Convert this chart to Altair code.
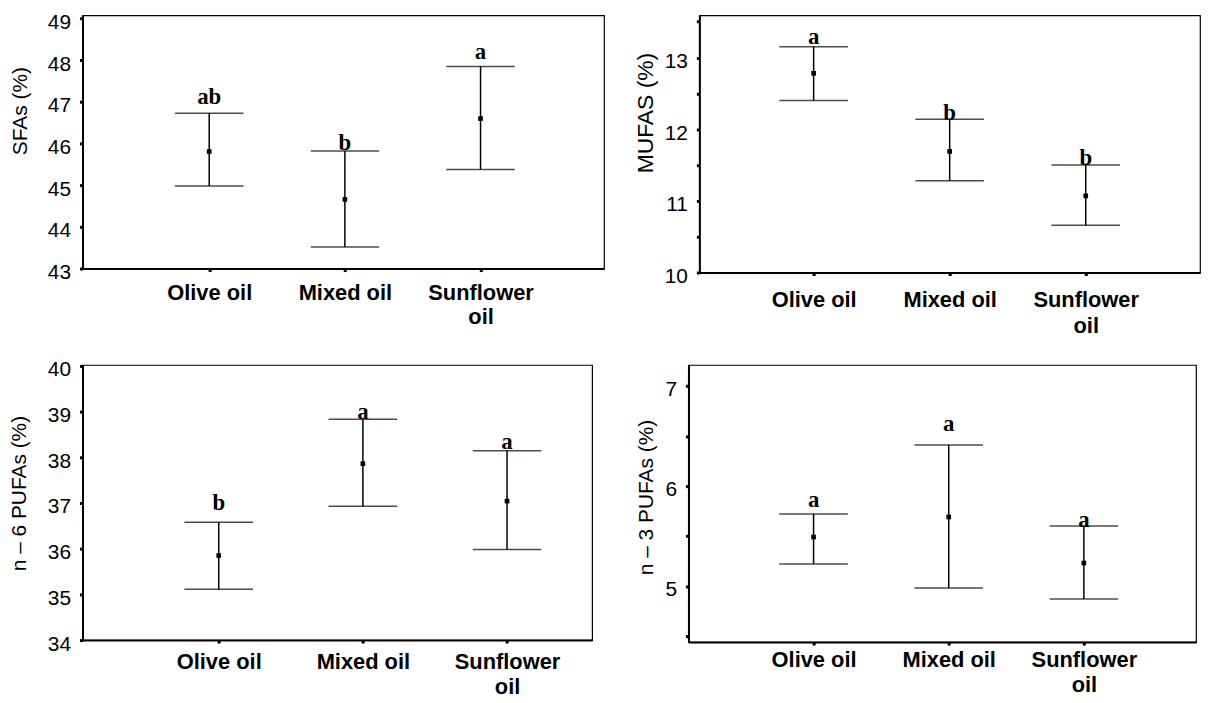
import altair as alt
import pandas as pd

# ---------------- data ----------------
categories = ["Olive oil", "Mixed oil", "Sunflower oil"]
positions = [1, 2, 3]

sfa_mean = [45.81, 44.66, 46.60]
sfa_low = [44.98, 43.52, 45.38]
sfa_high = [46.73, 45.82, 47.85]
sfa_letters = ["ab", "b", "a"]
sfa_letter_y = [47.12, 46.02, 48.20]

mufa_mean = [12.78, 11.69, 11.07]
mufa_low = [12.40, 11.28, 10.66]
mufa_high = [13.15, 12.14, 11.50]
mufa_letters = ["a", "b", "b"]
mufa_letter_y = [13.29, 12.23, 11.60]

n6_mean = [35.85, 37.86, 37.04]
n6_low = [35.11, 36.93, 35.98]
n6_high = [36.58, 38.83, 38.14]
n6_letters = ["b", "a", "a"]
n6_letter_y = [37.00, 39.00, 38.33]

n3_mean = [5.49, 5.69, 5.23]
n3_low = [5.22, 4.98, 4.87]
n3_high = [5.72, 6.41, 5.60]
n3_letters = ["a", "a", "a"]
n3_letter_y = [5.86, 6.62, 5.66]

sfa_ticks = [43, 44, 45, 46, 47, 48, 49]
mufa_ticks = [10, 10.5, 11, 11.5, 12, 12.5, 13, 13.5]
n6_ticks = [34, 35, 36, 37, 38, 39, 40]
n3_ticks = [4.5, 5, 5.5, 6, 6.5, 7]

# label lines for the category axis
label_lines = [c.split(" ", 1) if c.startswith("Sunflower") else [c] for c in categories]


def label_expr():
    parts = []
    for p, lines in zip(positions, label_lines):
        arr = "[" + ", ".join("'" + s + "'" for s in lines) + "]"
        parts.append(f"datum.value == {p} ? {arr} : ")
    return "".join(parts) + "''"


def frame(mean, low, high, letters, ly):
    return pd.DataFrame({
        "pos": positions, "cat": categories, "mean": mean, "low": low,
        "high": high, "letter": letters, "ly": ly,
    })


def panel(df, ytitle, ydom, yticks, xdom, w, h, title_x, title_y,
          lab_pad, line_h, title_size=21, cap=69):
    xs = alt.Scale(domain=xdom, nice=False, zero=False)
    ys = alt.Scale(domain=ydom, nice=False, zero=False)
    xaxis = alt.Axis(values=positions, labelExpr=label_expr(), title=None,
                     labelFontWeight="bold", labelFontSize=22,
                     labelPadding=lab_pad, labelLineHeight=line_h,
                     labelAngle=0, labelFlush=False, labelOverlap=False,
                     labelBaseline="top")
    yaxis = alt.Axis(values=yticks,
                     labelExpr="datum.value == floor(datum.value) ? format(datum.value, 'd') : ''",
                     labelPadding=9, labelOffset=4, titleX=title_x, titleY=title_y,
                     titleBaseline="middle", titleAlign="center",
                     titleFontSize=title_size,
                     labelOverlap=False, labelFlush=False)
    X = alt.X("pos:Q", scale=xs, axis=xaxis)
    base = alt.Chart(df)
    whisk = base.mark_rule(color="black", strokeWidth=1.5).encode(
        x=X, y=alt.Y("low:Q", scale=ys, axis=yaxis, title=ytitle), y2="high:Q")
    cap_hi = base.mark_tick(orient="horizontal", color="black", size=cap,
                            thickness=1.5).encode(
        x=X, y=alt.Y("high:Q", scale=ys, axis=yaxis, title=ytitle))
    cap_lo = base.mark_tick(orient="horizontal", color="black", size=cap,
                            thickness=1.5).encode(
        x=X, y=alt.Y("low:Q", scale=ys, axis=yaxis, title=ytitle))
    pt = base.mark_square(color="black", size=22, opacity=1).encode(
        x=X, y=alt.Y("mean:Q", scale=ys, axis=yaxis, title=ytitle))
    txt = base.mark_text(font="Liberation Serif", fontWeight="bold",
                         fontSize=23, baseline="middle", color="black").encode(
        x=X, y=alt.Y("ly:Q", scale=ys, axis=yaxis, title=ytitle), text="letter:N")
    return alt.layer(whisk, cap_hi, cap_lo, pt, txt).properties(width=w, height=h)


tl = panel(frame(sfa_mean, sfa_low, sfa_high, sfa_letters, sfa_letter_y),
           "SFAs (%)", [43, 49.08], sfa_ticks, [0.066, 3.91], 525, 255,
           -62, 96, 11, 24)
tr = panel(frame(mufa_mean, mufa_low, mufa_high, mufa_letters, mufa_letter_y),
           "MUFAS (%)", [10, 13.59], mufa_ticks, [0.16, 3.84], 504, 259,
           -54, 98, 14, 26, title_size=23)
bl = panel(frame(n6_mean, n6_low, n6_high, n6_letters, n6_letter_y),
           "n \u2013 6 PUFAs (%)", [34, 40.02], n6_ticks, [0.055, 3.59], 513, 277,
           -63, 129, 9, 25)
br = panel(frame(n3_mean, n3_low, n3_high, n3_letters, n3_letter_y),
           "n \u2013 3 PUFAs (%)", [4.44, 7.21], n3_ticks, [0.074, 3.83], 511, 279,
           -42, 133, 5, 25)

chart = alt.vconcat(
    alt.hconcat(tl, tr, spacing=29),
    alt.hconcat(bl, br, spacing=42),
    spacing=21,
).properties(padding=0, background="white").configure_view(
    stroke="black", strokeWidth=1.2
).configure_axis(
    domainColor="black", domainWidth=2, tickColor="black", tickSize=3,
    tickWidth=3, grid=False, labelFont="Liberation Sans", labelFontSize=21,
    labelColor="black", titleFont="Liberation Sans", titleFontSize=21,
    titleFontWeight="normal", titleColor="black",
)

chart.save("out.html", embed_options={"renderer": "svg", "actions": False})
